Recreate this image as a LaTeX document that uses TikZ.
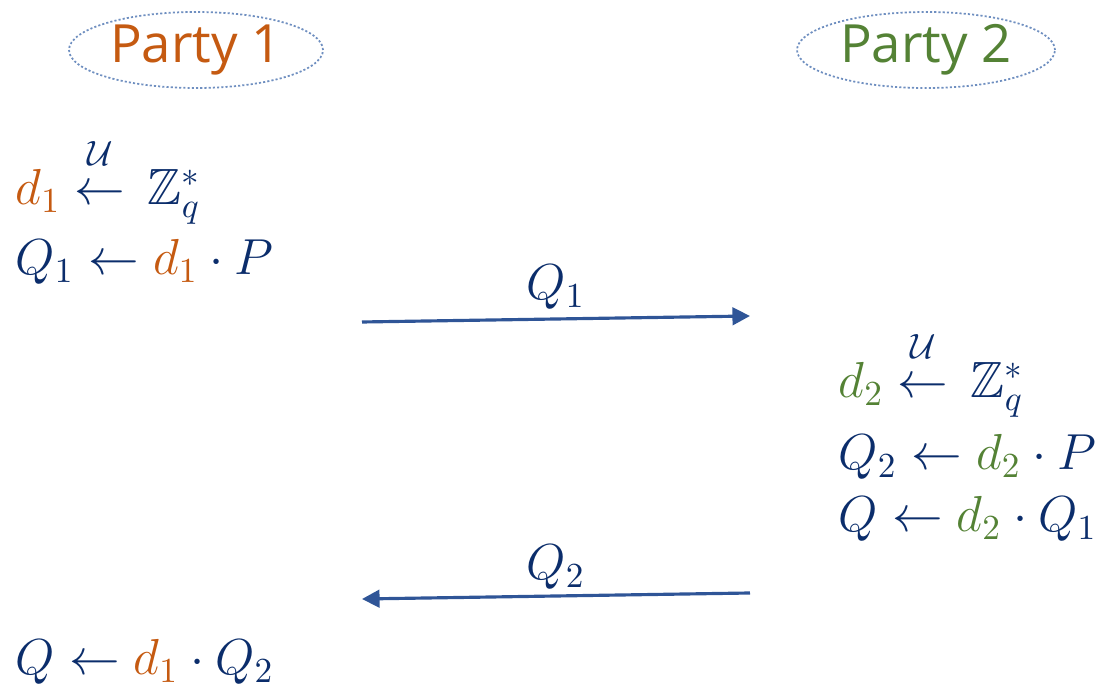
\documentclass[tikz,border=0pt]{standalone}
\usepackage{amsmath,amssymb}
\usepackage{fontspec}
\newfontfamily\partyfont{Open Sans}
\usetikzlibrary{arrows.meta,shapes.geometric}

\definecolor{pone}{HTML}{C55A11}
\definecolor{ptwo}{HTML}{548235}
\definecolor{ink}{HTML}{0B2D6B}
\definecolor{msgblue}{HTML}{2F5597}
\definecolor{ringblue}{HTML}{6F8FC0}

\newcommand{\dA}{\textcolor{pone}{d_1}}
\newcommand{\dB}{\textcolor{ptwo}{d_2}}
\newcommand{\rnd}{\mathrel{\mathop{\leftarrow}\limits^{\raisebox{3pt}{$\scriptstyle\mathcal{U}$}}}\,}

\begin{document}
\begin{tikzpicture}[
	party/.style={ellipse, draw=ringblue, dash pattern=on 0.6pt off 0.6pt, line width=0.5pt, minimum width=2.54cm, minimum height=0.76cm, inner sep=0pt, font=\partyfont\fontsize{15}{18}\selectfont},
	eq/.style={anchor=base west, inner sep=0pt, text=ink, font=\fontsize{14.5}{17}\selectfont},
	msg/.style={draw=msgblue, line width=0.9pt, -{Triangle[length=5pt, width=5pt]}},
	lbl/.style={anchor=base, inner sep=0pt, text=ink, font=\fontsize{14.5}{17}\selectfont}
	]
	\useasboundingbox (0,0) rectangle (10.99,6.87);

	% the two parties
	\node[party, text=pone] (party1) at (1.96, 6.37) {Party 1};
	\node[party, text=ptwo, minimum width=2.58cm] (party2) at (9.26, 6.37) {Party 2};

	% party 1, first step
	\node[eq] (p1rand) at (0.15, 4.82) {$\dA \rnd \mathbb{Z}_q^*$};
	\node[eq] (p1pub) at (0.15, 4.12) {$Q_1 \leftarrow \dA \cdot P$};

	% party 2
	\node[eq] (p2rand) at (8.38, 2.89) {$\dB \rnd \mathbb{Z}_q^*$};
	\node[eq] (p2pub) at (8.38, 2.17) {$Q_2 \leftarrow \dB \cdot P$};
	\node[eq] (p2key) at (8.38, 1.55) {$Q \leftarrow \dB \cdot Q_1$};

	% party 1, last step
	\node[eq] (p1key) at (0.15, 0.12) {$Q \leftarrow \dA \cdot Q_2$};

	% messages
	\coordinate (m1s) at (3.62, 3.65);
	\coordinate (m1e) at (7.50, 3.71);
	\coordinate (m2s) at (7.50, 0.94);
	\coordinate (m2e) at (3.62, 0.88);
	\draw[msg] (m1s) -- (m1e);
	\draw[msg] (m2s) -- (m2e);
	\node[lbl] (lq1) at (5.56, 3.87) {$Q_1$};
	\node[lbl] (lq2) at (5.56, 1.07) {$Q_2$};
\end{tikzpicture}
\end{document}
